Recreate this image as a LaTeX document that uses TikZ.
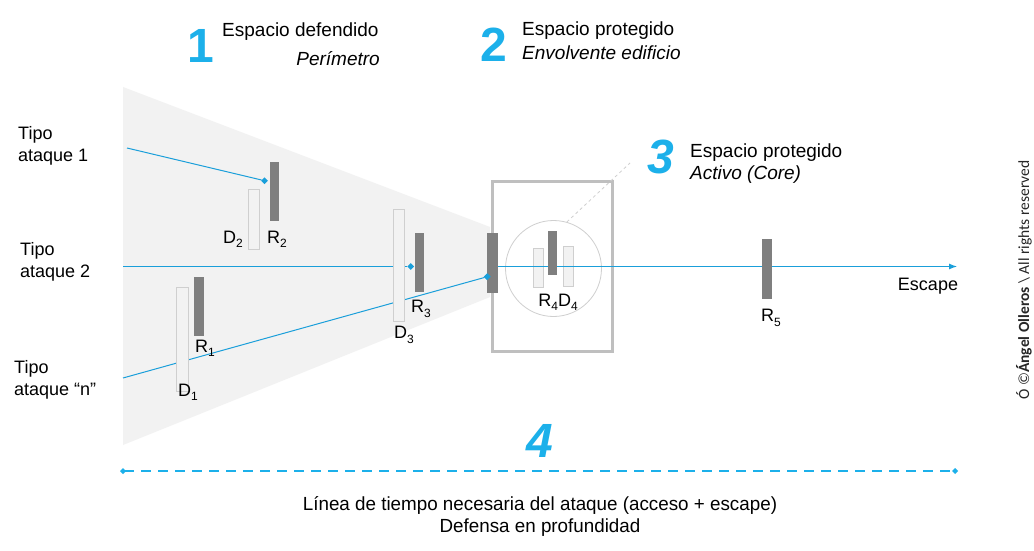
\documentclass[tikz,border=0pt]{standalone}
\usepackage{fontspec}
\setmainfont{Liberation Sans}
\newfontfamily\cpfont{Carlito}
\usetikzlibrary{shapes.geometric,arrows.meta}
\definecolor{lblue}{HTML}{1A9FDA}
\definecolor{cyanx}{HTML}{1CB0EA}
\definecolor{barg}{HTML}{7F7F7F}
\definecolor{lbarfill}{HTML}{F2F2F2}
\definecolor{lbarline}{HTML}{CFCFCF}
\definecolor{conefill}{HTML}{F2F2F2}
\definecolor{boxg}{HTML}{BFBFBF}
\newcommand\sbs[1]{\raisebox{-0.45ex}{\fontsize{12}{12}\selectfont #1}}
\begin{document}
\begin{tikzpicture}[x=1pt,y=-1pt,
  darkbar/.style={draw=none, fill=barg, inner sep=0pt, outer sep=0pt},
  lightbar/.style={draw=lbarline, line width=0.8pt, fill=lbarfill, inner sep=0pt, outer sep=0pt},
  attack/.style={draw=lblue, line width=1pt},
  dmark/.style={diamond, fill=lblue, inner sep=0pt, minimum size=7pt},
  lbl/.style={font=\fontsize{18}{22}\selectfont, inner sep=0pt, align=left},
  ttl/.style={font=\fontsize{19}{22}\selectfont, inner sep=0pt, text height=14pt, text depth=4pt},
  ttli/.style={font=\fontsize{19}{22}\selectfont\itshape, inner sep=0pt, text height=17pt, text depth=4pt},
  bignum/.style={font=\fontsize{48}{48}\selectfont\bfseries, text=cyanx, inner sep=0pt},
  bignumi/.style={font=\fontsize{48}{48}\selectfont\bfseries\itshape, text=cyanx, inner sep=0pt},
  barlbl/.style={font=\fontsize{18}{18}\selectfont, inner sep=0pt},
  timeline/.style={draw=cyanx, line width=2.5pt, dash pattern=on 10pt off 7pt},
  bottomtxt/.style={font=\fontsize{19}{23}\selectfont, inner sep=0pt}
]
\useasboundingbox (0,0) rectangle (1034,551);
\fill[white] (0,0) rectangle (1034,551);

% defended space cone
\fill[conefill] (123,87) -- (490,227) -- (490,297) -- (123,445) -- cycle;

% building envelope
\node[draw=boxg, line width=3pt, minimum width=120pt, minimum height=170pt, inner sep=0pt] (bld) at (552,266) {};
% core
\node[circle, draw=lbarline, line width=0.8pt, minimum size=96pt, inner sep=0pt] (core) at (553.5,268.5) {};
\coordinate (c3) at (630,163);
\draw[draw=lbarline, line width=0.8pt, dashed] (core.74) -- (c3);

% light bars inside core
\node[lightbar, minimum width=10pt, minimum height=39pt] (D4a) at (538,267.5) {};
\node[lightbar, minimum width=10pt, minimum height=40pt] (D4b) at (568,266) {};

% attack lines
\coordinate (s1) at (127,148);
\coordinate (s2) at (123,266.5);
\coordinate (sn) at (123,378);
\coordinate (e0) at (498,266.5);
\coordinate (e1) at (957,266.5);
\node[dmark] (m1) at (264.5,180.7) {};
\node[dmark] (m2) at (410.7,266.5) {};
\node[dmark] (m3) at (487.3,276.7) {};
\draw[attack] (s1) -- (m1);
\draw[attack] (s2) -- (m2);
\draw[attack] (sn) -- (m3);
\draw[attack, -{Latex[length=8pt,width=6pt]}] (e0) -- (e1);

% detection bars
\node[lightbar, minimum width=11.6pt, minimum height=104pt] (D1) at (182.5,339.5) {};
\node[lightbar, minimum width=10.6pt, minimum height=60pt] (D2) at (254,219) {};
\node[lightbar, minimum width=11pt, minimum height=112pt] (D3) at (399,265.3) {};

% resistance bars
\node[darkbar, minimum width=10pt, minimum height=59.3pt] (R1) at (199,306.3) {};
\node[darkbar, minimum width=9pt, minimum height=59.3pt] (R2) at (274.5,191.3) {};
\node[darkbar, minimum width=9pt, minimum height=59.3pt] (R3) at (419.5,262.3) {};
\node[darkbar, minimum width=11pt, minimum height=60pt] (Rb) at (492.5,263) {};
\node[darkbar, minimum width=9pt, minimum height=44pt] (R4) at (552,253) {};
\node[darkbar, minimum width=10.6pt, minimum height=59.7pt] (R5) at (767,269) {};
\node[dmark] at (m3) {};

% bar labels
\node[barlbl] (lD2) at (233,239) {D\sbs{2}};
\node[barlbl] (lR2) at (277,239) {R\sbs{2}};
\node[barlbl] (lR1) at (205,348) {R\sbs{1}};
\node[barlbl] (lD1) at (188,392) {D\sbs{1}};
\node[barlbl] (lR3) at (421,309) {R\sbs{3}};
\node[barlbl] (lD3) at (404,335) {D\sbs{3}};
\node[barlbl] (lR4D4) at (558,302) {R\sbs{4}D\sbs{4}};
\node[barlbl] (lR5) at (771,318) {R\sbs{5}};
\node[barlbl] (lesc) at (928,286) {Escape};

% attack type labels
\node[lbl, anchor=west] (t1) at (18,146) {Tipo\\ataque 1};
\node[lbl, anchor=west] (t2) at (20,262) {Tipo\\ataque 2};
\node[lbl, anchor=west] (tn) at (14,380) {Tipo\\ataque “n”};

% titles
\node[bignum] (n1) at (201,46) {1};
\node[ttl, anchor=base west] (e1t) at (222,37) {Espacio defendido};
\node[ttli, anchor=base east] (e1s) at (380,66) {Perímetro};
\node[bignum] (n2) at (494,45) {2};
\node[ttl, anchor=base west] (e2t) at (522,36) {Espacio protegido};
\node[ttli, anchor=base west] (e2s) at (522,60) {Envolvente edificio};
\node[bignumi] (n3) at (661,157) {3};
\node[ttl, anchor=base west] (e3t) at (690,157) {Espacio protegido};
\node[ttli, anchor=base west] (e3s) at (690,179) {Activo (Core)};
\node[bignumi] (n4) at (540,441) {4};

% timeline
\coordinate (tl0) at (120,471);
\coordinate (tl1) at (958,471);
\draw[timeline, {Turned Square[length=6pt,width=6pt,fill=cyanx]}-{Turned Square[length=6pt,width=6pt,fill=cyanx]}] (tl0) -- (tl1);
\node[bottomtxt] (b1) at (540,505) {\scalebox{0.99}[1]{Línea de tiempo necesaria del ataque (acceso + escape)}};
\node[bottomtxt] (b2) at (540,528) {\scalebox{0.99}[1]{Defensa en profundidad}};

% copyright
\node[rotate=90, font=\cpfont\fontsize{15.5}{15.5}\selectfont, text=black!85, inner sep=0pt] (cr) at (1024,280) {Ó ©\textbf{Ángel Olleros} \textbackslash{} All rights reserved};
\end{tikzpicture}
\end{document}
